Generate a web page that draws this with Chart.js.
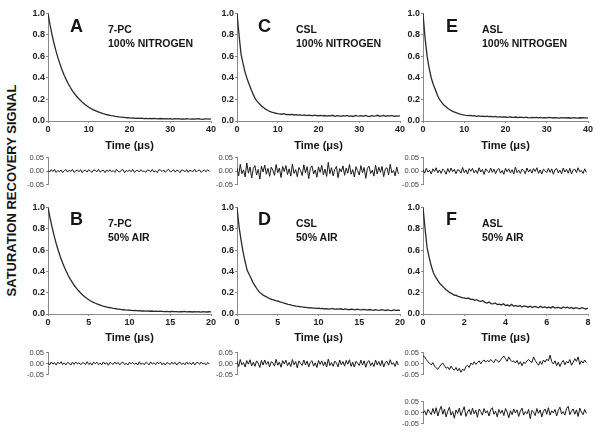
<!DOCTYPE html>
<html>
<head>
<meta charset="utf-8">
<script src="https://cdn.jsdelivr.net/npm/chart.js@4.4.0/dist/chart.umd.min.js"></script>
<style>
  body { margin: 0; background: #fff; width: 602px; height: 440px; position: relative; overflow: hidden; font-family: "Liberation Sans", Arial, sans-serif; }
  canvas { position: absolute; }
  .txt { position: absolute; font-weight: bold; color: #151515; white-space: nowrap; line-height: 1; }
</style>
</head>
<body>
<script>
// sampling steps (us) of each trace
const stepA = 0.5, stepB = 0.25, stepC = 0.5, stepD = 0.25, stepE = 0.5, stepF = 0.1;
const resStepA = 0.4, resStepB = 0.2, resStepC = 0.4, resStepD = 0.2, resStepE = 0.4, resStepF = 0.08;

// saturation recovery signal
const signalA = [1.000,0.893,0.800,0.718,0.645,0.580,0.522,0.470,0.423,0.382,
  0.344,0.311,0.281,0.255,0.230,0.209,0.190,0.171,0.156,0.142,
  0.128,0.117,0.106,0.098,0.089,0.082,0.075,0.068,0.064,0.058,
  0.054,0.050,0.047,0.043,0.041,0.038,0.036,0.034,0.031,0.030,
  0.029,0.027,0.029,0.025,0.026,0.024,0.027,0.023,0.025,0.022,
  0.024,0.021,0.024,0.022,0.020,0.023,0.021,0.019,0.022,0.020,
  0.021,0.018,0.021,0.019,0.022,0.018,0.020,0.017,0.021,0.019,
  0.018,0.020,0.017,0.019,0.021,0.018,0.016,0.019,0.020,0.017,
  0.019];
const signalB = [1.000,0.902,0.814,0.735,0.663,0.598,0.540,0.487,0.440,0.398,
  0.359,0.325,0.294,0.265,0.240,0.218,0.197,0.178,0.162,0.147,
  0.134,0.122,0.112,0.103,0.095,0.088,0.081,0.075,0.070,0.065,
  0.061,0.057,0.053,0.050,0.047,0.045,0.042,0.040,0.038,0.037,
  0.035,0.034,0.031,0.033,0.030,0.031,0.028,0.030,0.027,0.029,
  0.026,0.028,0.025,0.027,0.024,0.026,0.025,0.022,0.025,0.023,
  0.021,0.024,0.022,0.023,0.020,0.023,0.021,0.024,0.020,0.022,
  0.021,0.019,0.022,0.020,0.021,0.018,0.021,0.020,0.019,0.021,
  0.020];
const signalC = [1.000,0.800,0.620,0.530,0.450,0.390,0.340,0.290,0.245,0.205,
  0.180,0.160,0.140,0.125,0.110,0.100,0.090,0.083,0.077,0.072,
  0.068,0.066,0.063,0.068,0.060,0.062,0.058,0.061,0.056,0.059,
  0.055,0.057,0.053,0.056,0.050,0.054,0.052,0.048,0.055,0.050,
  0.049,0.052,0.047,0.051,0.045,0.050,0.048,0.053,0.044,0.049,
  0.047,0.043,0.050,0.046,0.052,0.044,0.048,0.042,0.051,0.047,
  0.045,0.049,0.043,0.052,0.046,0.041,0.050,0.045,0.048,0.053,
  0.044,0.047,0.051,0.043,0.049,0.046,0.052,0.044,0.048,0.045,
  0.047];
const signalD = [1.000,0.820,0.690,0.580,0.490,0.410,0.370,0.330,0.290,0.260,
  0.230,0.205,0.190,0.175,0.165,0.155,0.145,0.138,0.132,0.126,
  0.122,0.114,0.110,0.101,0.097,0.090,0.088,0.081,0.079,0.074,
  0.072,0.068,0.067,0.063,0.062,0.058,0.060,0.055,0.056,0.053,
  0.054,0.050,0.053,0.047,0.051,0.046,0.049,0.052,0.044,0.048,
  0.045,0.049,0.042,0.047,0.044,0.040,0.046,0.043,0.039,0.045,
  0.041,0.038,0.044,0.040,0.036,0.042,0.039,0.035,0.041,0.037,
  0.034,0.040,0.036,0.033,0.039,0.035,0.032,0.038,0.034,0.036,
  0.033];
const signalE = [1.000,0.770,0.600,0.490,0.400,0.340,0.290,0.240,0.200,0.175,
  0.150,0.135,0.118,0.104,0.094,0.085,0.077,0.070,0.064,0.059,
  0.055,0.052,0.050,0.053,0.047,0.049,0.044,0.048,0.043,0.046,
  0.041,0.045,0.040,0.043,0.038,0.042,0.037,0.041,0.036,0.039,
  0.037,0.034,0.038,0.035,0.033,0.037,0.032,0.036,0.034,0.031,
  0.035,0.032,0.030,0.034,0.031,0.033,0.029,0.034,0.030,0.032,
  0.029,0.033,0.031,0.028,0.032,0.030,0.027,0.031,0.029,0.032,
  0.028,0.030,0.027,0.031,0.029,0.026,0.030,0.028,0.031,0.027,
  0.029];
const signalF = [1.000,0.800,0.620,0.530,0.450,0.390,0.350,0.320,0.290,0.270,
  0.250,0.230,0.215,0.200,0.192,0.178,0.176,0.165,0.160,0.152,
  0.152,0.145,0.150,0.138,0.140,0.128,0.135,0.122,0.118,0.125,
  0.108,0.102,0.112,0.098,0.095,0.104,0.088,0.092,0.085,0.096,
  0.080,0.084,0.076,0.090,0.072,0.081,0.070,0.079,0.066,0.075,
  0.071,0.064,0.073,0.060,0.070,0.066,0.058,0.072,0.061,0.067,
  0.059,0.065,0.057,0.069,0.055,0.062,0.060,0.052,0.066,0.058,
  0.063,0.054,0.061,0.050,0.059,0.056,0.049,0.060,0.053,0.047,
  0.055];

// fit residuals
const residA = [0.003,-0.004,0.005,-0.002,0.006,-0.005,0.002,-0.003,0.004,-0.006,
  0.001,0.005,-0.004,0.003,-0.002,0.006,-0.005,0.000,0.004,-0.003,
  0.005,-0.006,0.002,0.003,-0.004,0.005,-0.001,-0.005,0.004,0.002,
  -0.003,0.006,-0.004,0.001,0.003,-0.006,0.004,-0.002,0.005,-0.003,
  0.002,-0.005,0.006,-0.001,-0.004,0.003,0.005,-0.006,0.002,-0.002,
  0.004,-0.003,0.006,-0.005,0.001,0.003,-0.004,0.005,-0.002,0.000,
  -0.005,0.004,0.002,-0.003,0.006,-0.004,0.001,-0.006,0.005,0.003,
  -0.002,0.004,-0.005,0.002,0.006,-0.003,-0.001,0.005,-0.004,0.003,
  0.001,-0.006,0.004,0.002,-0.003,0.005,-0.005,0.003,0.000,-0.002,
  0.006,-0.004,0.002,0.004,-0.005,0.001,0.003,-0.003,0.005,-0.002];
const residB = [0.005,-0.006,0.007,-0.003,0.004,-0.007,0.006,-0.002,0.008,-0.005,
  0.003,-0.006,0.005,0.001,-0.007,0.006,-0.004,0.007,-0.002,0.004,
  -0.006,0.003,0.002,-0.005,0.008,-0.004,0.003,-0.007,0.006,-0.001,
  0.006,-0.005,0.002,-0.006,0.007,-0.003,0.004,-0.008,0.005,0.000,
  -0.004,0.007,-0.003,0.005,-0.006,0.003,0.006,-0.005,0.001,-0.007,
  0.006,-0.002,0.005,-0.004,0.003,-0.007,0.008,-0.004,0.002,-0.006,
  0.005,0.001,-0.006,0.007,-0.003,0.004,-0.005,0.006,-0.001,0.007,
  -0.006,0.003,-0.007,0.005,0.000,-0.004,0.006,-0.003,0.005,-0.007,
  0.003,0.006,-0.005,0.002,-0.006,0.007,-0.003,0.004,-0.005,0.006,
  -0.007,0.003,0.005,-0.004,0.007,-0.002,0.001,-0.006,0.005,-0.003];
const residC = [0.012,-0.018,0.025,-0.010,0.004,-0.022,0.030,-0.008,0.015,-0.026,
  0.009,0.020,-0.015,0.006,-0.030,0.018,-0.004,0.022,-0.012,0.010,
  -0.020,0.014,0.003,-0.016,0.024,-0.006,0.011,-0.024,0.017,-0.002,
  0.020,-0.013,0.008,-0.019,0.026,-0.009,0.005,-0.021,0.013,0.002,
  -0.017,0.023,-0.007,0.016,-0.028,0.010,0.019,-0.011,0.004,-0.023,
  0.015,-0.005,0.021,-0.014,0.007,-0.020,0.032,-0.010,0.012,-0.018,
  0.006,0.017,-0.025,0.009,-0.003,0.019,-0.016,0.011,-0.008,0.024,
  -0.012,0.005,-0.022,0.016,0.001,-0.015,0.020,-0.006,0.013,-0.027,
  0.010,0.018,-0.009,0.003,-0.019,0.022,-0.011,0.014,-0.005,0.017,
  -0.021,0.008,0.012,-0.014,0.025,-0.007,0.002,-0.018,0.015,-0.010];
const residD = [0.010,-0.014,0.018,-0.006,0.004,-0.016,0.013,-0.003,0.017,-0.011,
  0.006,-0.013,0.012,0.002,-0.018,0.014,-0.007,0.016,-0.004,0.009,
  -0.015,0.008,0.003,-0.012,0.019,-0.008,0.006,-0.017,0.013,-0.002,
  0.015,-0.010,0.005,-0.014,0.018,-0.006,0.009,-0.020,0.012,0.001,
  -0.009,0.016,-0.007,0.011,-0.015,0.006,0.013,-0.012,0.003,-0.018,
  0.014,-0.004,0.012,-0.010,0.007,-0.016,0.020,-0.009,0.004,-0.013,
  0.011,0.002,-0.015,0.016,-0.006,0.009,-0.012,0.014,-0.003,0.017,
  -0.013,0.006,-0.016,0.010,0.001,-0.009,0.015,-0.007,0.012,-0.017,
  0.007,0.013,-0.010,0.004,-0.014,0.016,-0.006,0.009,-0.011,0.014,
  -0.016,0.005,0.010,-0.008,0.017,-0.004,0.003,-0.013,0.011,-0.007];
const residE = [0.006,-0.008,0.010,-0.004,0.003,-0.011,0.008,-0.002,0.012,-0.007,
  0.004,-0.009,0.007,0.001,-0.012,0.009,-0.005,0.011,-0.003,0.006,
  -0.010,0.005,0.002,-0.008,0.013,-0.006,0.004,-0.011,0.009,-0.001,
  0.010,-0.007,0.003,-0.009,0.012,-0.004,0.006,-0.013,0.008,0.000,
  -0.006,0.011,-0.005,0.007,-0.010,0.004,0.009,-0.008,0.002,-0.012,
  0.010,-0.003,0.008,-0.007,0.005,-0.011,0.014,-0.006,0.003,-0.009,
  0.007,0.002,-0.010,0.011,-0.004,0.006,-0.008,0.009,-0.002,0.012,
  -0.009,0.004,-0.011,0.007,0.001,-0.006,0.010,-0.005,0.008,-0.012,
  0.005,0.009,-0.007,0.003,-0.010,0.011,-0.004,0.006,-0.008,0.010,
  -0.011,0.004,0.007,-0.006,0.012,-0.003,0.002,-0.009,0.008,-0.005];
const residF1 = [0.035,0.030,0.018,0.008,0.002,-0.006,0.004,-0.012,-0.020,-0.026,
  -0.015,-0.004,0.002,-0.010,-0.022,-0.016,-0.028,-0.012,-0.024,-0.030,
  -0.018,-0.034,-0.022,-0.040,-0.026,-0.032,-0.014,-0.008,-0.018,0.002,
  -0.006,0.008,-0.004,0.004,0.012,-0.002,0.010,0.016,0.006,0.014,
  0.008,0.018,0.010,0.004,0.020,0.012,0.006,0.016,0.026,0.034,
  0.022,0.010,0.030,0.016,0.008,0.012,0.002,0.014,-0.004,0.008,
  -0.010,0.006,0.000,0.012,0.018,0.010,0.004,0.030,0.014,0.002,
  -0.008,0.010,-0.004,0.016,0.006,0.020,0.012,0.038,0.008,-0.002,
  0.012,-0.010,0.006,-0.014,0.004,0.014,-0.006,0.010,0.002,0.018,
  -0.008,0.006,0.022,0.010,0.030,-0.004,0.012,0.002,0.016,0.004];
const residF2 = [-0.004,0.008,-0.012,0.014,0.002,-0.010,0.018,-0.006,0.022,-0.016,
  0.010,0.028,-0.008,0.016,-0.020,0.006,0.024,-0.012,0.004,-0.026,
  0.012,-0.004,0.020,-0.014,0.008,0.026,-0.018,0.002,0.014,-0.010,
  0.020,-0.006,0.010,-0.022,0.016,0.004,-0.012,0.018,-0.002,0.008,
  -0.016,0.012,0.022,-0.008,0.006,-0.020,0.014,-0.004,0.010,-0.014,
  0.018,0.002,-0.024,0.008,-0.010,0.016,-0.002,0.012,-0.018,0.006,
  0.020,-0.012,0.004,-0.006,0.014,-0.028,0.010,0.002,-0.014,0.018,
  -0.004,0.012,-0.020,0.006,0.016,-0.008,0.022,-0.012,0.008,-0.002,
  0.014,-0.016,0.010,0.024,-0.006,0.004,-0.012,0.018,0.028,-0.010,
  0.006,0.016,-0.008,0.012,-0.018,0.020,0.002,-0.010,0.014,-0.004];

const sigTicks = [0, 0.2, 0.4, 0.6, 0.8, 1.0];
const resTicks = [-0.05, 0, 0.05];

const font = 'Liberation Sans, Arial, sans-serif';

function toPoints(vals, step) {
  return vals.map((v, i) => ({ x: i * step, y: v }));
}

function addChart(o) {
  const resid = !!o.resid;
  const yW = resid ? 27 : 28;
  const xH = resid ? 0 : 12;
  const padT = 6, padR = 10, padB = resid ? 5 : 2;
  const w = yW + (o.x1 - o.x0) + padR;
  const h = padT + (o.y1 - o.y0) + xH + padB;
  const c = document.createElement('canvas');
  c.width = w; c.height = h;
  c.style.left = (o.x0 - yW) + 'px';
  c.style.top = (o.y0 - padT) + 'px';
  document.body.appendChild(c);
  const ticks = resid ? resTicks : sigTicks;
  new Chart(c, {
    type: 'line',
    data: { datasets: [{ data: o.points, borderColor: resid ? '#1a1a1a' : '#2a2a2a', borderWidth: resid ? 1 : 1.3, pointRadius: 0, tension: 0 }] },
    options: {
      responsive: false, animation: false, events: [],
      layout: { padding: { top: padT, right: padR, bottom: padB, left: 0 } },
      plugins: { legend: { display: false }, tooltip: { enabled: false } },
      scales: {
        x: {
          type: 'linear', min: 0, max: o.xMax, display: !resid,
          afterFit: s => { s.height = xH; },
          ticks: { stepSize: o.xStep, color: '#222', padding: 1, maxRotation: 0, font: { family: font, size: 9, weight: 'bold' } },
          grid: { drawOnChartArea: false, tickLength: 2, color: '#888' },
          border: { color: '#8a8a8a' }
        },
        y: {
          min: ticks[0], max: ticks[ticks.length - 1],
          afterFit: s => { s.width = yW; },
          afterBuildTicks: s => { s.ticks = ticks.map(v => ({ value: v })); },
          ticks: {
            autoSkip: false, padding: resid ? 2 : 1,
            color: resid ? '#444' : '#222',
            font: resid ? { family: font, size: 7.5 } : { family: font, size: 9, weight: 'bold' },
            callback: v => v.toFixed(resid ? 2 : 1)
          },
          grid: { drawOnChartArea: false, tickLength: 2, color: '#888' },
          border: { color: '#8a8a8a' }
        }
      }
    }
  });
}

// column plot edges, row plot edges (px)
const cols = [[48, 211], [237, 400], [423, 588]];
const rowMain = [[13, 121], [207, 314]];
const rowRes = [[157, 186], [352, 376], [401, 425]];

addChart({ x0: cols[0][0], x1: cols[0][1], y0: rowMain[0][0], y1: rowMain[0][1], xMax: 40, xStep: 10, points: toPoints(signalA, stepA) });
addChart({ x0: cols[1][0], x1: cols[1][1], y0: rowMain[0][0], y1: rowMain[0][1], xMax: 40, xStep: 10, points: toPoints(signalC, stepC) });
addChart({ x0: cols[2][0], x1: cols[2][1], y0: rowMain[0][0], y1: rowMain[0][1], xMax: 40, xStep: 10, points: toPoints(signalE, stepE) });
addChart({ x0: cols[0][0], x1: cols[0][1], y0: rowMain[1][0], y1: rowMain[1][1], xMax: 20, xStep: 5, points: toPoints(signalB, stepB) });
addChart({ x0: cols[1][0], x1: cols[1][1], y0: rowMain[1][0], y1: rowMain[1][1], xMax: 20, xStep: 5, points: toPoints(signalD, stepD) });
addChart({ x0: cols[2][0], x1: cols[2][1], y0: rowMain[1][0], y1: rowMain[1][1], xMax: 8, xStep: 2, points: toPoints(signalF, stepF) });

addChart({ resid: true, x0: cols[0][0], x1: cols[0][1], y0: rowRes[0][0], y1: rowRes[0][1], xMax: 40, points: toPoints(residA, resStepA) });
addChart({ resid: true, x0: cols[1][0], x1: cols[1][1], y0: rowRes[0][0], y1: rowRes[0][1], xMax: 40, points: toPoints(residC, resStepC) });
addChart({ resid: true, x0: cols[2][0], x1: cols[2][1], y0: rowRes[0][0], y1: rowRes[0][1], xMax: 40, points: toPoints(residE, resStepE) });
addChart({ resid: true, x0: cols[0][0], x1: cols[0][1], y0: rowRes[1][0], y1: rowRes[1][1], xMax: 20, points: toPoints(residB, resStepB) });
addChart({ resid: true, x0: cols[1][0], x1: cols[1][1], y0: rowRes[1][0], y1: rowRes[1][1], xMax: 20, points: toPoints(residD, resStepD) });
addChart({ resid: true, x0: cols[2][0], x1: cols[2][1], y0: rowRes[1][0], y1: rowRes[1][1], xMax: 8, points: toPoints(residF1, resStepF) });
addChart({ resid: true, x0: cols[2][0], x1: cols[2][1], y0: rowRes[2][0], y1: rowRes[2][1], xMax: 8, points: toPoints(residF2, resStepF) });

// text labels, placed by the centre of their capitals
function label(text, x, cy, size, extra) {
  const d = document.createElement('div');
  d.className = 'txt';
  d.textContent = text;
  d.style.fontSize = size + 'px';
  d.style.left = x + 'px';
  d.style.top = (cy - size / 2) + 'px';
  if (extra) Object.assign(d.style, extra);
  document.body.appendChild(d);
  return d;
}

const letters = [['A', 70, 25.5], ['C', 258, 25.5], ['E', 446, 25.5], ['B', 70, 219], ['D', 258, 219], ['F', 446, 219]];
letters.forEach(l => label(l[0], l[1], l[2], 18));

const notes = [['7-PC', '100% NITROGEN', 108, 29], ['CSL', '100% NITROGEN', 296, 29], ['ASL', '100% NITROGEN', 482, 29],
               ['7-PC', '50% AIR', 108, 223], ['CSL', '50% AIR', 296, 223], ['ASL', '50% AIR', 482, 223]];
notes.forEach(n => { label(n[0], n[2], n[3], 10.5); label(n[1], n[2], n[3] + 14, 10.5); });

[145, 337].forEach(cy => cols.forEach(c => {
  label('Time (μs)', c[0], cy, 11, { width: (c[1] - c[0]) + 'px', textAlign: 'center' });
}));

label('SATURATION RECOVERY SIGNAL', 11, 190, 13, { transform: 'translate(-50%, 0) rotate(-90deg)', transformOrigin: '50% 50%' });
</script>
</body>
</html>
